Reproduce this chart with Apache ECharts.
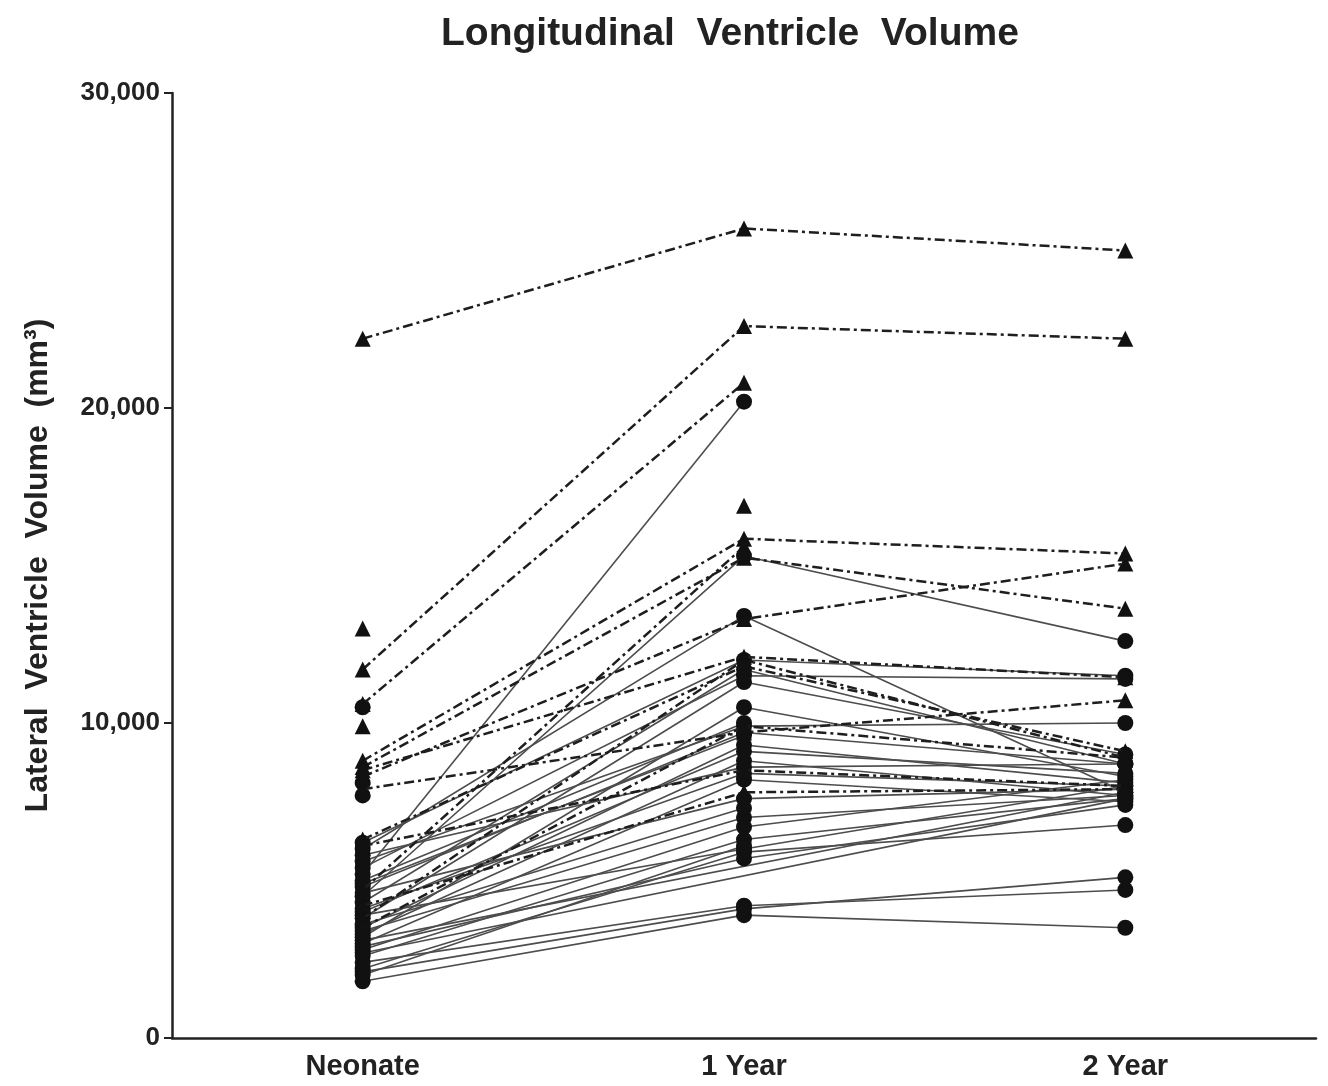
<!DOCTYPE html>
<html>
  <head>
    <meta charset="utf-8" />
    <title>Longitudinal Ventricle Volume</title>
    <script src="https://cdnjs.cloudflare.com/ajax/libs/echarts/6.0.0/echarts.min.js"></script>
  </head>
  <body>
    <style>
      html,
      body {
        width: 100%;
        height: 100%;
        margin: 0;
        padding: 0;
        background: #fff;
      }
      #main {
        width: 1328px;
        height: 1086px;
      }
    </style>
    <div id="main"></div>
    <script type="text/javascript">
      var categories = ['Neonate', '1 Year', '2 Year'];

      // solid lines, circles: one entry per subject (mm3)
      var solidNeonate = [5200, 4500, 6000, 6200, 4300, 3800, 3200, 5600, 4800, 3500, 5800, 4100, 3000, 4600, 3400, 2800, 2600, 3900, 2200, 2400, 1800, 2100, 3100, 2700, 5400, 4000, 2900, 3600, 4900, 2000, 5000, 3300, 10500, 8100, 7700];
      var solidYear1 = [20200, 15300, 13400, 12000, 11700, 11300, 10500, 9900, 9700, 9300, 8600, 8400, 8200, 7600, 7000, 6700, 6300, 6000, 5900, 4200, 3900, 4100, null, null, 11500, 9100, 5700, 7300, 9600, 6100, 10000, 8800, null, null, null];
      var solidYear2 = [null, 12600, 7800, 11500, 8700, 9000, 8300, 10000, 8700, 8100, 8700, 8000, 7500, 7900, 7700, 8200, 7600, 8000, 6760, 4700, 3500, 5100, 7800, 7600, 11400, 8400, 7400, null, null, null, null, 7700, null, null, null];

      // dash-dot lines, triangles
      var dashNeonate = [22200, 11700, 10600, 13000, 9900, null, 8800, 8600, 8300, 7900, 8500, 6300, 3800, 6100, 4200, 3500, 4700];
      var dashYear1 = [25700, 22600, 20800, null, null, 16900, 15850, 15250, 13300, 9700, 12100, 11800, 12000, 8500, 7800, 9900, 15600];
      var dashYear2 = [25000, 22200, null, null, null, null, 15380, 13630, 15060, 10720, 11450, 9100, 8900, 8000, 7900, 8900, null];

      var chartDom = document.getElementById('main');
      var myChart = echarts.init(chartDom);

      var series = [];
      for (var i = 0; i < solidNeonate.length; i++) {
        series.push({
          type: 'line',
          data: [solidNeonate[i], solidYear1[i], solidYear2[i]],
          connectNulls: true,
          symbol: 'circle',
          symbolSize: 16,
          itemStyle: { color: '#111' },
          lineStyle: { color: '#4d4d4d', width: 1.6, type: 'solid' },
          z: 2
        });
      }
      for (var j = 0; j < dashNeonate.length; j++) {
        series.push({
          type: 'line',
          data: [dashNeonate[j], dashYear1[j], dashYear2[j]],
          connectNulls: true,
          symbol: 'triangle',
          symbolSize: 16,
          itemStyle: { color: '#111' },
          lineStyle: { color: '#1e1e1e', width: 2.5, type: [10, 4, 3, 4] },
          z: 3
        });
      }

      var option = {
        animation: false,
        backgroundColor: '#fff',
        title: {
          text: 'Longitudinal  Ventricle  Volume',
          left: 436,
          top: 10,
          textStyle: {
            fontFamily: 'Liberation Sans',
            fontSize: 39,
            fontWeight: 'bold',
            color: '#222'
          }
        },
        grid: {
          left: 172,
          right: 12,
          top: 93,
          bottom: 48
        },
        xAxis: {
          type: 'category',
          data: categories,
          boundaryGap: true,
          axisLine: { lineStyle: { color: '#222', width: 2.5 } },
          axisTick: { alignWithLabel: true, length: 8, lineStyle: { color: '#222', width: 2 } },
          axisLabel: {
            margin: 14,
            fontFamily: 'Liberation Sans',
            fontSize: 29,
            fontWeight: 'bold',
            color: '#222'
          },
          splitLine: { show: false }
        },
        yAxis: {
          type: 'value',
          min: 0,
          max: 30000,
          interval: 10000,
          name: 'Lateral  Ventricle  Volume  (mm³)',
          nameLocation: 'middle',
          nameGap: 118,
          nameTextStyle: {
            fontFamily: 'Liberation Sans',
            fontSize: 32,
            fontWeight: 'bold',
            color: '#222'
          },
          axisLine: { show: true, lineStyle: { color: '#222', width: 2.5 } },
          axisTick: { show: true, length: 8, lineStyle: { color: '#222', width: 2 } },
          axisLabel: {
            margin: 12,
            fontFamily: 'Liberation Sans',
            fontSize: 26,
            fontWeight: 'bold',
            color: '#222',
            formatter: function (v) {
              return v.toLocaleString('en-US');
            }
          },
          splitLine: { show: false }
        },
        series: series
      };

      myChart.setOption(option);
    </script>
  </body>
</html>
